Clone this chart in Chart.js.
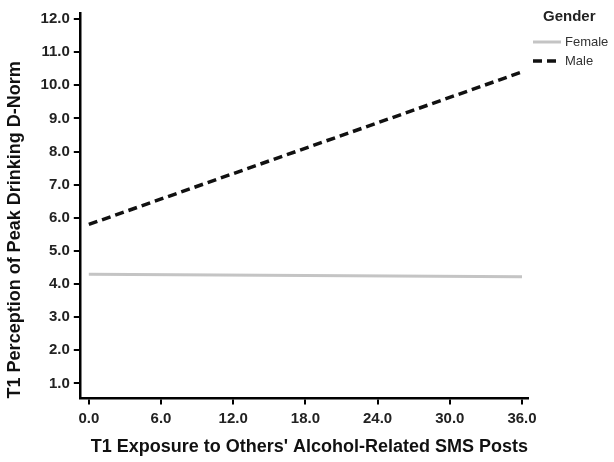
<!DOCTYPE html>
<html>
<head>
<meta charset="utf-8">
<script src="https://cdn.jsdelivr.net/npm/chart.js@4"></script>
<style>
  body { margin: 0; background: #fff; }
  canvas { display: block; }
</style>
</head>
<body>
<canvas id="chart" width="614" height="462"></canvas>
<script>
/* ===== data ===== */
const exposure   = [0, 36];
const femaleVals = [4.3, 4.22];
const maleVals   = [5.8, 10.4];
const xTicks = [0, 6, 12, 18, 24, 30, 36];
const yTicks = [1, 2, 3, 4, 5, 6, 7, 8, 9, 10, 11, 12];
const seriesNames = ["Female", "Male"];

const FONT = "'Liberation Sans', Arial, sans-serif";

function toPoints(vals) {
  return exposure.map((x, i) => ({ x: x, y: vals[i] }));
}

// small legend drawn to the right of the plot, like the SPSS output
const genderLegend = {
  id: "genderLegend",
  afterDraw(chart) {
    const ctx = chart.ctx;
    ctx.save();
    ctx.fillStyle = "#222";
    ctx.font = "bold 15px " + FONT;
    ctx.textBaseline = "middle";
    ctx.fillText("Gender", 543, 17);
    ctx.font = "13px " + FONT;
    chart.data.datasets.forEach((ds, i) => {
      const y = 42 + i * 19;
      ctx.strokeStyle = ds.borderColor;
      ctx.lineWidth = ds.borderWidth;
      ctx.setLineDash(ds.borderDash || []);
      ctx.beginPath();
      ctx.moveTo(533, y);
      ctx.lineTo(561, y);
      ctx.stroke();
      ctx.setLineDash([]);
      ctx.fillStyle = "#333";
      ctx.fillText(ds.label, 565, y);
    });
    ctx.restore();
  }
};

function axisStyle(title, titlePad, tickPad, align) {
  return {
    type: "linear",
    border: { color: "#000", width: 2.5 },
    grid: { drawOnChartArea: false, drawTicks: true, tickLength: 6, color: "#000", lineWidth: 2 },
    ticks: {
      color: "#222",
      font: { family: FONT, size: 15, weight: "bold" },
      padding: tickPad,
      callback: v => Number(v).toFixed(1)
    },
    title: {
      display: true,
      text: title,
      align: align,
      color: "#111",
      font: { family: FONT, size: 18, weight: "bold" },
      padding: titlePad
    }
  };
}

const xAxis = axisStyle("T1 Exposure to Others' Alcohol-Related SMS Posts", { top: 4, bottom: 0 }, 5, "end");
xAxis.min = -0.75;
xAxis.max = 36.5;
xAxis.afterBuildTicks = s => { s.ticks = xTicks.map(v => ({ value: v })); };

const yAxis = axisStyle("T1 Perception of Peak Drinking D-Norm", { top: 0, bottom: 11 }, 4, "start");
yAxis.min = 0.55;
yAxis.max = 12.18;
yAxis.afterBuildTicks = s => { s.ticks = yTicks.map(v => ({ value: v })); };

new Chart(document.getElementById("chart").getContext("2d"), {
  type: "line",
  data: {
    datasets: [
      {
        label: seriesNames[0],
        data: toPoints(femaleVals),
        borderColor: "#c4c4c4",
        borderWidth: 3,
        pointRadius: 0,
        fill: false
      },
      {
        label: seriesNames[1],
        data: toPoints(maleVals),
        borderColor: "#111",
        borderWidth: 3.5,
        borderDash: [9, 5],
        pointRadius: 0,
        fill: false
      }
    ]
  },
  options: {
    responsive: false,
    animation: false,
    layout: { padding: { left: 4, top: 5, right: 86, bottom: 4 } },
    scales: { x: xAxis, y: yAxis },
    plugins: { legend: { display: false }, tooltip: { enabled: false } }
  },
  plugins: [genderLegend]
});
</script>
</body>
</html>
